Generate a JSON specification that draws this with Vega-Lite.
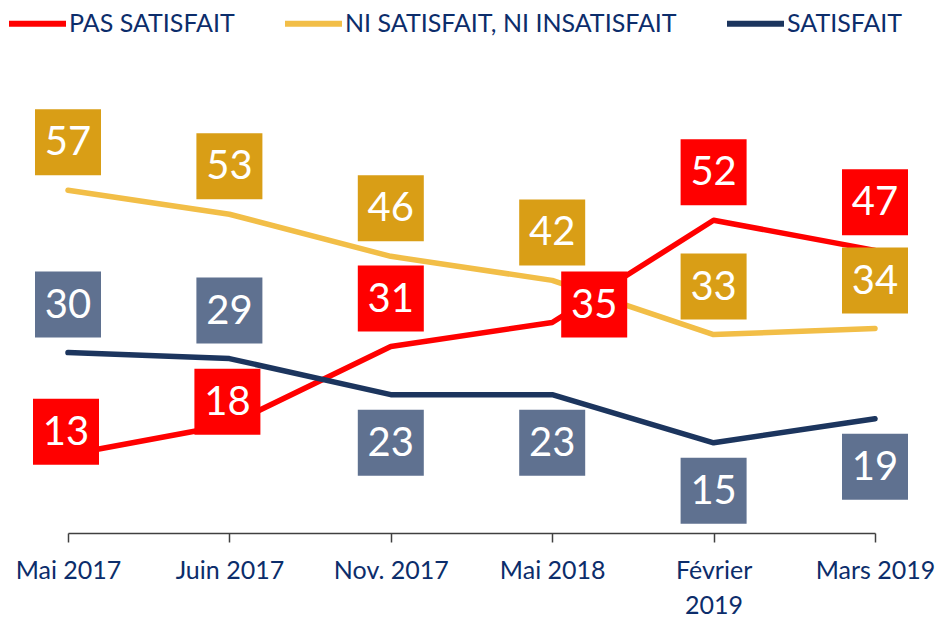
{
  "$schema": "https://vega.github.io/schema/vega-lite/v6.json",
  "autosize": {"type": "none"},
  "width": 807,
  "height": 421,
  "padding": {"left": 68, "top": 112, "right": 67, "bottom": 86},
  "background": "white",
  "config": {"view": {"stroke": null}, "font": "Lato"},
  "data": {
    "values": [
      {"periode": "Mai 2017", "serie": "Pas satisfait", "valeur": 13, "pos": "proche"},
      {"periode": "Juin 2017", "serie": "Pas satisfait", "valeur": 18, "pos": "proche"},
      {"periode": "Nov. 2017", "serie": "Pas satisfait", "valeur": 31, "pos": "haut"},
      {"periode": "Mai 2018", "serie": "Pas satisfait", "valeur": 35, "pos": "droite"},
      {"periode": "Février 2019", "serie": "Pas satisfait", "valeur": 52, "pos": "haut"},
      {"periode": "Mars 2019", "serie": "Pas satisfait", "valeur": 47, "pos": "haut"},
      {"periode": "Mai 2017", "serie": "Ni satisfait, ni insatisfait", "valeur": 57, "pos": "haut"},
      {"periode": "Juin 2017", "serie": "Ni satisfait, ni insatisfait", "valeur": 53, "pos": "haut"},
      {"periode": "Nov. 2017", "serie": "Ni satisfait, ni insatisfait", "valeur": 46, "pos": "haut"},
      {"periode": "Mai 2018", "serie": "Ni satisfait, ni insatisfait", "valeur": 42, "pos": "haut"},
      {"periode": "Février 2019", "serie": "Ni satisfait, ni insatisfait", "valeur": 33, "pos": "haut"},
      {"periode": "Mars 2019", "serie": "Ni satisfait, ni insatisfait", "valeur": 34, "pos": "haut"},
      {"periode": "Mai 2017", "serie": "Satisfait", "valeur": 30, "pos": "haut"},
      {"periode": "Juin 2017", "serie": "Satisfait", "valeur": 29, "pos": "haut"},
      {"periode": "Nov. 2017", "serie": "Satisfait", "valeur": 23, "pos": "bas"},
      {"periode": "Mai 2018", "serie": "Satisfait", "valeur": 23, "pos": "bas"},
      {"periode": "Février 2019", "serie": "Satisfait", "valeur": 15, "pos": "bas"},
      {"periode": "Mars 2019", "serie": "Satisfait", "valeur": 19, "pos": "bas"}
    ]
  },
  "encoding": {
    "x": {
      "field": "periode",
      "type": "ordinal",
      "sort": ["Mai 2017", "Juin 2017", "Nov. 2017", "Mai 2018", "Février 2019", "Mars 2019"],
      "scale": {"type": "point", "padding": 0},
      "axis": {
        "title": null,
        "labelAngle": 0,
        "labelFont": "Lato",
        "labelFontSize": 25,
        "labelColor": "#0C2D6B",
        "labelPadding": 16,
        "labelLineHeight": 35,
        "labelExpr": "datum.value == 'Février 2019' ? ['Février', '2019'] : datum.value",
        "tickSize": 9,
        "tickWidth": 1.5,
        "tickColor": "#404040",
        "domainColor": "#404040",
        "domainWidth": 1.5,
        "grid": false
      }
    },
    "y": {
      "field": "valeur",
      "type": "quantitative",
      "scale": {"domain": [0, 70]},
      "axis": null
    }
  },
  "layer": [
    {
      "mark": {"type": "line", "strokeWidth": 5.5, "strokeCap": "round", "strokeJoin": "round"},
      "encoding": {
        "stroke": {
          "field": "serie",
          "type": "nominal",
          "scale": {
            "domain": ["Pas satisfait", "Ni satisfait, ni insatisfait", "Satisfait"],
            "range": ["#FF0000", "#F2BE47", "#1C355E"]
          },
          "legend": {
            "title": null,
            "orient": "none",
            "legendX": -62,
            "legendY": -120,
            "direction": "horizontal",
            "symbolType": "stroke",
            "symbolSize": 3249,
            "symbolStrokeWidth": 6,
            "labelFont": "Lato",
            "labelFontSize": 25,
            "labelColor": "#0C2D6B",
            "labelOffset": 0,
            "labelLimit": 600,
            "columnPadding": 38,
            "padding": 0,
            "labelExpr": "upper(datum.label)"
          }
        }
      }
    },
    {
      "transform": [{"filter": "datum.pos == 'haut'"}],
      "layer": [
        {
          "mark": {"type": "point", "shape": "square", "filled": true, "opacity": 1, "size": 4356, "strokeWidth": 0, "yOffset": -48},
          "encoding": {
            "fill": {
              "field": "serie",
              "type": "nominal",
              "scale": {
                "domain": ["Pas satisfait", "Ni satisfait, ni insatisfait", "Satisfait"],
                "range": ["#FF0000", "#D99E16", "#5F7190"]
              },
              "legend": null
            }
          }
        },
        {
          "mark": {"type": "text", "font": "Lato", "fontSize": 40, "color": "white", "align": "center", "baseline": "middle", "yOffset": -47},
          "encoding": {"text": {"field": "valeur", "type": "quantitative"}}
        }
      ]
    },
    {
      "transform": [{"filter": "datum.pos == 'bas'"}],
      "layer": [
        {
          "mark": {"type": "point", "shape": "square", "filled": true, "opacity": 1, "size": 4356, "strokeWidth": 0, "yOffset": 48},
          "encoding": {"fill": {"field": "serie", "type": "nominal", "legend": null}}
        },
        {
          "mark": {"type": "text", "font": "Lato", "fontSize": 40, "color": "white", "align": "center", "baseline": "middle", "yOffset": 49},
          "encoding": {"text": {"field": "valeur", "type": "quantitative"}}
        }
      ]
    },
    {
      "transform": [{"filter": "datum.pos == 'proche'"}],
      "layer": [
        {
          "mark": {"type": "point", "shape": "square", "filled": true, "opacity": 1, "size": 4356, "strokeWidth": 0, "yOffset": -23, "xOffset": -2},
          "encoding": {"fill": {"field": "serie", "type": "nominal", "legend": null}}
        },
        {
          "mark": {"type": "text", "font": "Lato", "fontSize": 40, "color": "white", "align": "center", "baseline": "middle", "yOffset": -22, "xOffset": -2},
          "encoding": {"text": {"field": "valeur", "type": "quantitative"}}
        }
      ]
    },
    {
      "transform": [{"filter": "datum.pos == 'droite'"}],
      "layer": [
        {
          "mark": {"type": "point", "shape": "square", "filled": true, "opacity": 1, "size": 4356, "strokeWidth": 0, "yOffset": -18, "xOffset": 42},
          "encoding": {"fill": {"field": "serie", "type": "nominal", "legend": null}}
        },
        {
          "mark": {"type": "text", "font": "Lato", "fontSize": 40, "color": "white", "align": "center", "baseline": "middle", "yOffset": -17, "xOffset": 42},
          "encoding": {"text": {"field": "valeur", "type": "quantitative"}}
        }
      ]
    }
  ]
}
